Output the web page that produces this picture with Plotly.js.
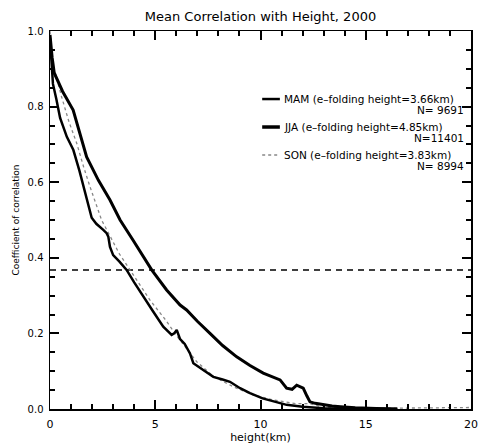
<!DOCTYPE html>
<html>
<head>
<meta charset="utf-8">
<script src="https://cdn.plot.ly/plotly-3.0.1.min.js"></script>
<style>html,body{margin:0;padding:0;background:#fff}#chart{width:478px;height:444px}</style>
</head>
<body>
<div id="chart"></div>
<script>
// JJA (thick solid)
var jjaH = [0, 0.05, 0.1, 0.15, 0.2, 0.6, 1.1, 1.74, 2.3, 2.85, 3.33, 3.94, 4.4, 4.83, 5.54, 6.18, 6.49, 7.0, 7.6, 8.2, 8.87, 9.5, 10.13, 10.6, 10.93, 11.24, 11.5, 11.72, 12.03, 12.2, 12.35, 12.6, 13.0, 13.4, 13.8, 14.5, 15.5, 16.5];
var jjaC = [0.99, 0.95, 0.93, 0.91, 0.889, 0.84, 0.791, 0.667, 0.605, 0.553, 0.50, 0.447, 0.405, 0.368, 0.315, 0.275, 0.262, 0.232, 0.20, 0.168, 0.138, 0.115, 0.095, 0.085, 0.077, 0.055, 0.052, 0.063, 0.055, 0.035, 0.019, 0.015, 0.011, 0.008, 0.006, 0.003, 0.001, 0.0];
// MAM (solid)
var mamH = [0, 0.05, 0.1, 0.14, 0.3, 0.48, 0.8, 1.11, 1.4, 1.66, 1.98, 2.2, 2.38, 2.53, 2.69, 2.77, 2.85, 3.0, 3.3, 3.64, 4.0, 4.43, 4.9, 5.38, 5.78, 5.9, 6.02, 6.18, 6.4, 6.65, 6.81, 7.28, 7.76, 8.2, 8.55, 9.03, 9.5, 10.1, 10.7, 11.24, 12.0, 12.5, 13.0, 14.0, 15.0, 16.5];
var mamC = [0.98, 0.93, 0.89, 0.86, 0.82, 0.77, 0.72, 0.685, 0.63, 0.575, 0.506, 0.49, 0.482, 0.474, 0.465, 0.456, 0.429, 0.407, 0.39, 0.368, 0.335, 0.297, 0.258, 0.218, 0.196, 0.2, 0.209, 0.185, 0.172, 0.147, 0.121, 0.103, 0.085, 0.078, 0.072, 0.055, 0.042, 0.028, 0.018, 0.011, 0.006, 0.004, 0.002, 0.001, 0.0, 0.0];
// SON (grey dotted)
var sonH = [0, 0.05, 0.1, 0.2, 0.55, 0.9, 1.27, 1.6, 1.9, 2.45, 2.77, 3.3, 3.8, 4.3, 4.75, 5.5, 6.0, 6.49, 6.97, 7.75, 8.7, 9.66, 10.6, 11.7, 12.35, 13.0, 14, 15, 16, 17, 18, 19, 20];
var sonC = [1.0, 0.96, 0.93, 0.9, 0.826, 0.76, 0.703, 0.64, 0.588, 0.5, 0.465, 0.41, 0.368, 0.325, 0.288, 0.235, 0.195, 0.16, 0.125, 0.087, 0.059, 0.037, 0.024, 0.014, 0.014, 0.004, 0.002, 0.001, 0.002, 0.003, 0.002, 0.003, 0.004];
// 1/e reference line
var refH = [0, 20];
var refC = [0.3679, 0.3679];

// axis tick values
var xMajorTicks = [0, 5, 10, 15, 20];
var yMajorTicks = [0, 0.2, 0.4, 0.6, 0.8, 1.0];

var legendLabels = ["MAM (e–folding height=3.66km)", "JJA (e–folding height=4.85km)", "SON (e–folding height=3.83km)"];
var legendN = ["N= 9691", "N=11401", "N= 8994"];

var fnt = {family: "DejaVu Sans, Arial, sans-serif", color: "#000000"};

var traces = [
  {x: refH, y: refC, mode: "lines", line: {color: "#000", width: 1.5, dash: "6px,5px"}, hoverinfo: "skip"},
  {x: sonH, y: sonC, mode: "lines", line: {color: "#888", width: 1.3, dash: "dot"}},
  {x: mamH, y: mamC, mode: "lines", line: {color: "#000", width: 2.5}},
  {x: jjaH, y: jjaC, mode: "lines", line: {color: "#000", width: 3}}
];

var legY = [0.82, 0.746, 0.672];
var shapes = [
  {type: "line", xref: "paper", yref: "paper", x0: 0.504, x1: 0.546, y0: legY[0], y1: legY[0], line: {color: "#000", width: 2.5}},
  {type: "line", xref: "paper", yref: "paper", x0: 0.504, x1: 0.546, y0: legY[1], y1: legY[1], line: {color: "#000", width: 3.5}},
  {type: "line", xref: "paper", yref: "paper", x0: 0.504, x1: 0.546, y0: legY[2], y1: legY[2], line: {color: "#888", width: 1.5, dash: "dot"}}
];

var annotations = [];
for (var i = 0; i < 3; i++) {
  annotations.push({xref: "paper", yref: "paper", x: 0.55, y: legY[i], xanchor: "left", yanchor: "middle", showarrow: false, text: legendLabels[i], font: Object.assign({size: 10.5}, fnt)});
  annotations.push({xref: "paper", yref: "paper", x: 0.988, y: legY[i] - 0.03, xanchor: "right", yanchor: "middle", showarrow: false, text: legendN[i], font: Object.assign({size: 10.5}, fnt)});
}

var layout = {
  width: 478, height: 444,
  margin: {l: 50, r: 7, t: 31, b: 35},
  paper_bgcolor: "#fff", plot_bgcolor: "#fff",
  showlegend: false,
  title: {text: "Mean Correlation with Height, 2000", x: 0.5, xref: "paper", xanchor: "center", y: 0.962, yanchor: "middle", font: Object.assign({size: 13}, fnt)},
  xaxis: {
    range: [0, 20], tickmode: "array", tickvals: xMajorTicks,
    ticks: "inside", ticklen: 9, tickwidth: 2, tickcolor: "#000",
    minor: {dtick: 1, tick0: 0, ticks: "inside", ticklen: 5, tickwidth: 2, tickcolor: "#000"},
    showline: true, linecolor: "#000", linewidth: 1.5, mirror: "allticks", showgrid: false, zeroline: false,
    ticklabelstandoff: 4,
    tickfont: Object.assign({size: 11}, fnt),
    title: {text: "height(km)", font: Object.assign({size: 11}, fnt), standoff: 1}
  },
  yaxis: {
    range: [0, 1], tickmode: "array", tickvals: yMajorTicks, tickformat: ".1f",
    ticks: "inside", ticklen: 9, tickwidth: 2, tickcolor: "#000",
    minor: {dtick: 0.05, tick0: 0, ticks: "inside", ticklen: 5, tickwidth: 2, tickcolor: "#000"},
    showline: true, linecolor: "#000", linewidth: 1.5, mirror: "allticks", showgrid: false, zeroline: false,
    ticklabelstandoff: 3,
    tickfont: Object.assign({size: 10}, fnt),
    title: {text: "Coefficient of correlation", font: Object.assign({size: 9}, fnt), standoff: 6}
  },
  shapes: shapes,
  annotations: annotations
};

Plotly.newPlot("chart", traces, layout, {staticPlot: true, displayModeBar: false});
</script>
</body>
</html>
